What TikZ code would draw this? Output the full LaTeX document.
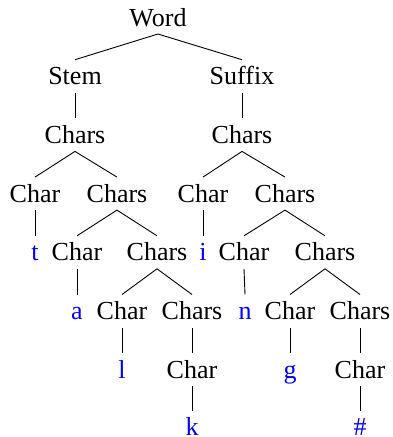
\documentclass[tikz,border=0pt]{standalone}
\usepackage{fontspec}
\setmainfont{Liberation Serif}
\begin{document}
\begin{tikzpicture}[x=1pt,y=-1pt,
  every node/.style={inner sep=0pt, outer sep=0pt, minimum height=33pt,
    text height=17.2pt, text depth=0pt, font=\fontsize{26}{31}\selectfont},
  cat/.style={text=black},
  leaf/.style={text=blue},
  branch/.style={line width=0.9pt, draw=black}]
\useasboundingbox (0,0) rectangle (392,437);
% rows
\def\ra{17.5}\def\rb{76.2}\def\rc{134.9}\def\rd{193.6}
\def\re{252.3}\def\rf{311}\def\rg{369.7}\def\rh{427}
% categories
\node[cat] (word)  at (158,\ra) {Word};
\node[cat] (stem)  at (75,\rb)  {Stem};
\node[cat] (suf)   at (242,\rb) {Suffix};
\node[cat] (cs1)   at (75,\rc)  {Chars};
\node[cat] (cs2)   at (242,\rc) {Chars};
\node[cat] (c1)    at (35,\rd)  {Char};
\node[cat] (cs3)   at (117,\rd) {Chars};
\node[cat] (c2)    at (203,\rd) {Char};
\node[cat] (cs4)   at (285,\rd) {Chars};
\node[leaf] (lt)   at (35,\re)  {t};
\node[cat] (c3)    at (77,\re)  {Char};
\node[cat] (cs5)   at (157,\re) {Chars};
\node[leaf] (li)   at (203,\re) {i};
\node[cat] (c4)    at (244,\re) {Char};
\node[cat] (cs6)   at (325,\re) {Chars};
\node[leaf] (la)   at (77,\rf)  {a};
\node[cat] (c5)    at (122,\rf) {Char};
\node[cat] (cs7)   at (192,\rf) {Chars};
\node[leaf] (ln)   at (245,\rf) {n};
\node[cat] (c6)    at (290,\rf) {Char};
\node[cat] (cs8)   at (360,\rf) {Chars};
\node[leaf] (ll)   at (122,\rg) {l};
\node[cat] (c7)    at (192,\rg) {Char};
\node[leaf] (lg)   at (290,\rg) {g};
\node[cat] (c8)    at (360,\rg) {Char};
\node[leaf] (lk)   at (192,\rh) {k};
\node[leaf] (lh)   at (360,\rh) {\#};
% branches
\foreach \p/\c in {word/stem, word/suf, stem/cs1, suf/cs2,
    cs1/c1, cs1/cs3, cs2/c2, cs2/cs4,
    c1/lt, cs3/c3, cs3/cs5, c2/li, cs4/c4, cs4/cs6,
    c3/la, cs5/c5, cs5/cs7, c4/ln, cs6/c6, cs6/cs8,
    c5/ll, cs7/c7, c6/lg, cs8/c8,
    c7/lk, c8/lh}
  \draw[branch] (\p.south) -- (\c.north);
\end{tikzpicture}
\end{document}
